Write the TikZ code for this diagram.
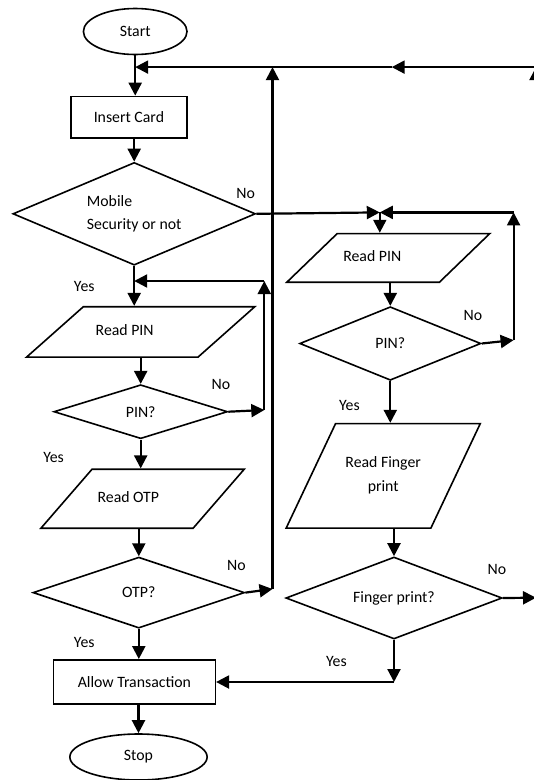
\documentclass[tikz,border=0pt]{standalone}
\usepackage{fontspec}
\setmainfont{Carlito}
\usetikzlibrary{arrows.meta,shapes.geometric}

\begin{document}
\begin{tikzpicture}[x=1pt, y=-1pt,
  every node/.style={font=\fontsize{15.8}{23.5}\selectfont, inner sep=1pt},
  term/.style={draw=black, ellipse, line width=1.6pt},
  box/.style={draw=black, rectangle, line width=1.6pt},
  io/.style={draw=black, trapezium, trapezium stretches body, line width=1.6pt,
    text width=90pt, text height=11pt, text depth=4pt},
  dec/.style={draw=black, diamond, aspect=2, line width=1.6pt},
  lbl/.style={inner sep=0pt},
  ar/.style={-{Triangle[length=13pt, width=13pt]}, line width=2.2pt}
]
\useasboundingbox (0,0) rectangle (534,780);
\node[term, minimum width=103.6pt, minimum height=46pt] (start) at (135.2,31.5) {Start};
\node[box, minimum width=116.2pt, minimum height=41.5pt] (ins) at (128.9,117.2) {Insert Card};
\node[dec, minimum width=242.6pt, minimum height=102.7pt, align=flush left] (mob) at (134.2,213.8) {Mobile\\Security or not};
\node[io, trapezium left angle=41.6, trapezium right angle=138.4, minimum width=228.2pt, inner ysep=17.7pt, align=flush left] (pinl) at (140.7,331.9) {Read PIN};
\node[dec, minimum width=173.7pt, minimum height=54pt] (pinql) at (140.7,411.7) {PIN?};
\node[io, trapezium left angle=49.1, trapezium right angle=130.9, minimum width=203.3pt, inner ysep=22pt, align=flush left] (otpl) at (142.6,498.7) {Read OTP};
\node[dec, minimum width=211.6pt, minimum height=71pt] (otpq) at (138.8,592.6) {OTP?};
\node[box, minimum width=161.8pt, minimum height=44.3pt] (allow) at (134.4,682) {Allow Transaction};
\node[term, minimum width=137.3pt, minimum height=46pt] (stop) at (138.5,757) {Stop};
\node[io, trapezium left angle=44, trapezium right angle=136, minimum width=203pt, inner ysep=16.85pt, align=flush left] (pinr) at (388.3,257.9) {Read PIN};
\node[dec, minimum width=181.2pt, minimum height=73.6pt] (pinqr) at (390.3,343.5) {PIN?};
\node[io, trapezium left angle=64.7, trapezium right angle=115.3, minimum width=194.1pt, text depth=27.5pt, inner ysep=33pt, align=flush center] (fpr) at (383.2,475.9) {Read Finger\\print};
\node[dec, minimum width=216.3pt, minimum height=82pt] (fpq) at (394,598) {Finger print?};

\node[lbl] (no1) at (245.6,193.1) {No};
\node[lbl] (yes1) at (84.3,286.6) {Yes};
\node[lbl] (no2) at (220.9,384.4) {No};
\node[lbl] (yes2) at (53.6,457.7) {Yes};
\node[lbl] (no3) at (236.4,565.6) {No};
\node[lbl] (yes3) at (84.3,642.8) {Yes};
\node[lbl] (no4) at (472.9,315.2) {No};
\node[lbl] (yes4) at (349.4,405.5) {Yes};
\node[lbl] (no5) at (497,569.5) {No};
\node[lbl] (yes5) at (336.4,661.5) {Yes};

\coordinate (pn) at (264.3,410);
\coordinate (pt) at (264.3,281);
\coordinate (on) at (272.5,589);
\coordinate (tm) at (391.7,67.1);
\coordinate (tr) at (536,67.1);
\coordinate (fno) at (536,597.7);
\coordinate (jr) at (379.8,212.4);
\coordinate (lp1) at (513.6,340.1);
\coordinate (lp2) at (513.6,212.4);
\coordinate (fy) at (fpq.south |- allow.east);

\draw[ar] (start) -- (start |- ins.north);
\draw[ar] (mob.north |- ins.south) -- (mob.north);
\draw[ar] (mob.south) -- (mob.south |- pinl.north);
\draw[ar] (pinql.north |- pinl.south) -- (pinql.north);
\draw[ar] (pinql.south) -- (pinql.south |- otpl.north);
\draw[ar] (otpq.north |- otpl.south) -- (otpq.north);
\draw[ar] (otpq.south) -- (otpq.south |- allow.north);
\draw[ar] (stop.north |- allow.south) -- (stop.north);

\draw[ar] (pinql.east) -- (pn);
\draw[ar] (pn) -- (pt);
\draw[ar] (pt) -- (mob.south |- pt);

\draw[ar] (otpq.east) -- (on);
\draw[ar] (on) -- (on |- tm);
\draw[ar] (tr) -- (tm);
\draw[ar] (tm) -- (start |- tm);
\draw[ar] (fpq.east) -- (fno);
\draw[ar] (fno) -- (tr);

\draw[ar] (mob.east) -- (jr);
\draw[ar] (jr) -- (jr |- pinr.north);
\draw[ar] (pinqr.east) -- (lp1);
\draw[ar] (lp1) -- (lp2);
\draw[ar] (lp2) -- (jr);
\draw[ar] (pinqr.north |- pinr.south) -- (pinqr.north);
\draw[ar] (pinqr.south) -- (pinqr.south |- fpr.north);
\draw[ar] (fpq.north |- fpr.south) -- (fpq.north);
\draw[ar] (fpq.south) -- (fy);
\draw[ar] (fy) -- (allow.east);
\end{tikzpicture}
\end{document}
